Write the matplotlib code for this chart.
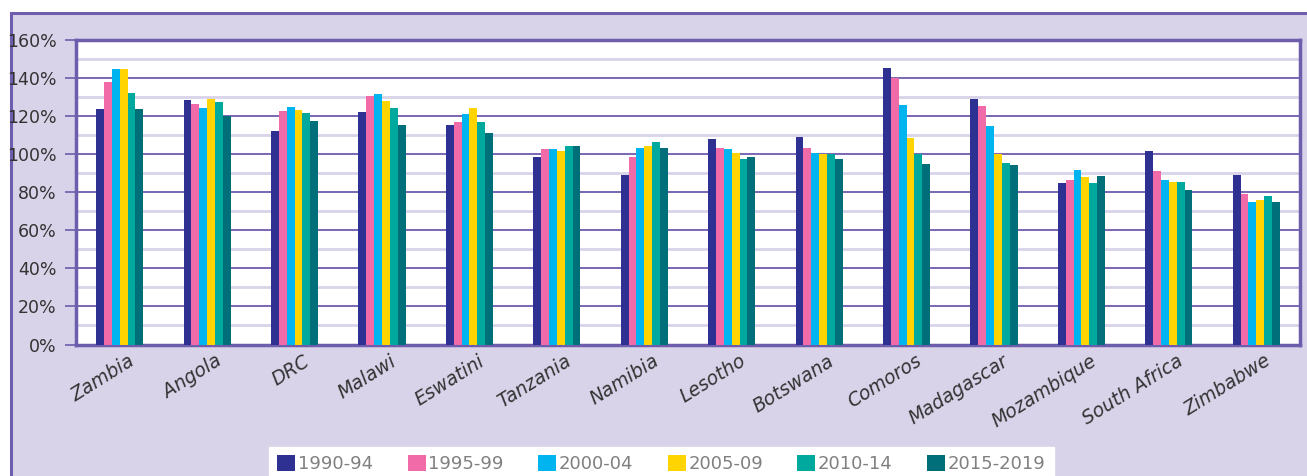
import matplotlib
matplotlib.use("Agg")
import matplotlib.pyplot as plt
import matplotlib.transforms as mtransforms
from matplotlib.patches import Rectangle
import numpy as np

countries = ["Zambia", "Angola", "DRC", "Malawi", "Eswatini", "Tanzania", "Namibia",
             "Lesotho", "Botswana", "Comoros", "Madagascar", "Mozambique",
             "South Africa", "Zimbabwe"]
periods = ["1990-94", "1995-99", "2000-04", "2005-09", "2010-14", "2015-2019"]

v1990 = [124, 128.5, 112, 122, 115.5, 98.5, 89, 108, 109, 145.5, 129, 85, 101.5, 89]
v1995 = [138, 126.5, 122.5, 130.5, 117, 102.5, 98.5, 103.5, 103.5, 140, 125.5, 86.5, 91, 79]
v2000 = [145, 124.5, 125, 131.5, 121, 102.5, 103.5, 102.5, 100.5, 126, 115, 91.5, 86.5, 75]
v2005 = [145, 129, 123, 128, 124.5, 101.5, 104.5, 100.5, 100, 108.5, 100, 88, 85.5, 76]
v2010 = [132, 127.5, 121.5, 124.5, 117, 104.5, 106.5, 97.5, 100, 100, 95.5, 85, 85.5, 78]
v2015 = [124, 120, 117.5, 115.5, 111, 104.5, 103.5, 98.5, 97.5, 95, 94.5, 88.5, 81, 75]
series = [v1990, v1995, v2000, v2005, v2010, v2015]

colors = ["#2e3192", "#f06ba8", "#00b5ef", "#ffd400", "#00a99d", "#006f7a"]
purple = "#6e5cad"
lavender = "#d8d3e9"

W, H = 1307, 476
fig = plt.figure(figsize=(W / 100, H / 100), dpi=100)
fig.patch.set_facecolor("white")

# lavender panel
panel = Rectangle((11 / W, -0.05), 1.1, (H - 13) / H + 0.05, transform=fig.transFigure,
                  facecolor=lavender, edgecolor=purple, linewidth=2.2, zorder=0)
fig.add_artist(panel)

ax = fig.add_axes([76 / W, (H - 344.5) / H, (1300 - 76) / W, (344.5 - 40) / H])
ax.set_facecolor("white")

x = np.arange(len(countries))
bw = 0.09
for i, (vals, c, lab) in enumerate(zip(series, colors, periods)):
    ax.bar(x + (i - 2.5) * bw, vals, width=bw, color=c, label=lab, zorder=3, linewidth=0)

ax.set_xlim(-0.5, len(countries) - 0.5)
ax.set_ylim(0, 160)
ax.set_yticks(np.arange(0, 161, 20))
ax.set_yticklabels([f"{v}%" for v in range(0, 161, 20)], fontsize=12.5, color="#333333")
ax.set_yticks(np.arange(10, 160, 20), minor=True)
ax.grid(axis="y", which="major", color=purple, linewidth=1.3, zorder=1)
ax.grid(axis="y", which="minor", color=lavender, linewidth=2.0, zorder=1)
ax.tick_params(axis="y", which="major", length=8, width=1.2, color=purple, pad=6)
ax.tick_params(axis="y", which="minor", length=0)
ax.tick_params(axis="x", length=0, pad=5)
ax.set_xticks(x)
ax.set_xticklabels(countries, rotation=32, ha="right", va="top", rotation_mode="anchor",
                   fontsize=13.5, style="italic", color="#333333")
offset = mtransforms.ScaledTranslation(8 / 100, 0, fig.dpi_scale_trans)
for lbl in ax.get_xticklabels():
    lbl.set_transform(lbl.get_transform() + offset)

for s in ax.spines.values():
    s.set_color(purple)
    s.set_linewidth(2.5)

leg = fig.legend(loc="lower center", bbox_to_anchor=(661.5 / W, -0.03), ncol=6,
                 frameon=True, fancybox=False, fontsize=13, handlelength=1.0,
                 handleheight=1.0, handletextpad=0.15, columnspacing=1.9,
                 borderpad=0.45, framealpha=1.0)
leg.get_frame().set_facecolor("white")
leg.get_frame().set_edgecolor("white")
for t in leg.get_texts():
    t.set_color("#808080")

fig.savefig("out.png", dpi=100)
